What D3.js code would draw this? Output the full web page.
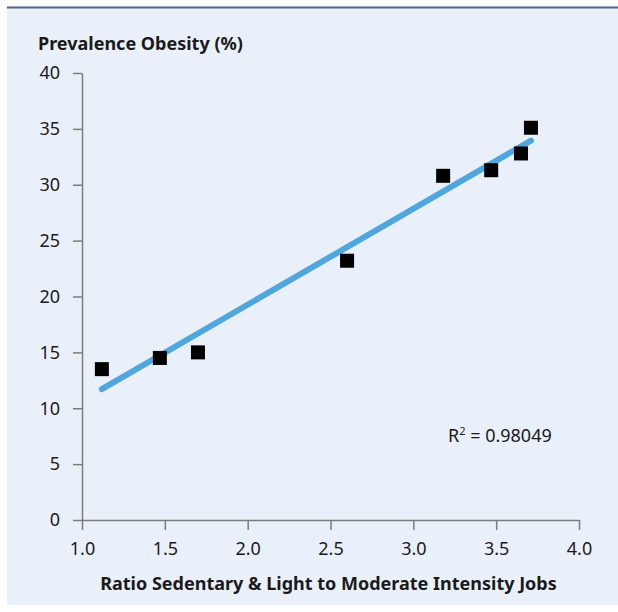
<!DOCTYPE html>
<html>
<head>
<meta charset="utf-8">
<script src="https://cdn.jsdelivr.net/npm/d3@7"></script>
<style>
  html, body { margin: 0; padding: 0; background: #ffffff; }
  svg { display: block; font-family: "Noto Sans", "Open Sans", sans-serif; }
</style>
</head>
<body>
<svg id="chart" width="618" height="612"></svg>
<script>
// Ratio of sedentary & light jobs to moderate-intensity jobs vs. obesity prevalence
const jobRatio   = [1.12, 1.47, 1.70, 2.60, 3.18, 3.47, 3.65, 3.71];
const obesityPct = [13.5, 14.5, 15.0, 23.2, 30.8, 31.3, 32.8, 35.1];
const xTicks = [1.0, 1.5, 2.0, 2.5, 3.0, 3.5, 4.0];
const yTicks = [0, 5, 10, 15, 20, 25, 30, 35, 40];
const rSquared = "0.98049";

const points = jobRatio.map((x, i) => ({ x, y: obesityPct[i] }));

// Least-squares trend line
const mx = d3.mean(jobRatio), my = d3.mean(obesityPct);
const slope = d3.sum(points, d => (d.x - mx) * (d.y - my)) / d3.sum(points, d => (d.x - mx) ** 2);
const intercept = my - slope * mx;
const [xMin, xMax] = d3.extent(jobRatio);
const trend = [xMin, xMax].map(x => ({ x, y: intercept + slope * x }));

const svg = d3.select("#chart");

// Panel
svg.append("rect")
  .attr("x", 7).attr("y", 7).attr("width", 611).attr("height", 598)
  .attr("fill", "#eaf0fa");
svg.append("line")
  .attr("x1", 7).attr("x2", 618).attr("y1", 7.5).attr("y2", 7.5)
  .attr("stroke", "#4d6290").attr("stroke-width", 2);

const x = d3.scaleLinear().domain([1, 4]).range([82, 579]);
const y = d3.scaleLinear().domain([0, 40]).range([520, 73]);

const axisColor = "#7c7c7c";
const textColor = "#1a1a1a";
const fontSize = "18px";

const gx = svg.append("g").attr("transform", `translate(0,${y(0)})`)
  .call(d3.axisBottom(x).tickValues(xTicks).tickFormat(d3.format(".1f"))
    .tickSize(10).tickSizeOuter(0).tickPadding(12));
const gy = svg.append("g").attr("transform", `translate(${x(1)},0)`)
  .call(d3.axisLeft(y).tickValues(yTicks).tickFormat(d3.format("d"))
    .tickSize(9).tickSizeOuter(0).tickPadding(13));

[gx, gy].forEach(g => {
  g.select(".domain").attr("stroke", axisColor).attr("stroke-width", 1.5);
  g.selectAll(".tick line").attr("stroke", axisColor).attr("stroke-width", 1.5);
  g.selectAll(".tick text").attr("fill", textColor)
    .style("font-size", fontSize).style("font-family", "'Noto Sans', sans-serif");
});

// Trend line
svg.append("path")
  .datum(trend)
  .attr("d", d3.line().x(d => x(d.x)).y(d => y(d.y)))
  .attr("fill", "none")
  .attr("stroke", "#50a7de")
  .attr("stroke-width", 6)
  .attr("stroke-linecap", "round");

// Data points
const s = 14;
svg.append("g").selectAll("rect")
  .data(points)
  .join("rect")
  .attr("x", d => x(d.x) - s / 2)
  .attr("y", d => y(d.y) - s / 2)
  .attr("width", s).attr("height", s)
  .attr("fill", "#000");

// Titles
svg.append("text")
  .attr("x", 38).attr("y", 50)
  .attr("fill", textColor)
  .style("font-size", fontSize).style("font-weight", "bold")
  .text("Prevalence Obesity (%)");

svg.append("text")
  .attr("x", 328.5).attr("y", 590)
  .attr("text-anchor", "middle")
  .attr("fill", textColor)
  .style("font-size", fontSize).style("font-weight", "bold")
  .text("Ratio Sedentary & Light to Moderate Intensity Jobs");

// R² annotation
const r2 = svg.append("text")
  .attr("x", 448).attr("y", 442)
  .attr("fill", textColor)
  .style("font-size", fontSize);
r2.append("tspan").text("R");
r2.append("tspan").attr("dy", -7).style("font-size", "11px").text("2");
r2.append("tspan").attr("dy", 7).text(" = " + rSquared);
</script>
</body>
</html>
